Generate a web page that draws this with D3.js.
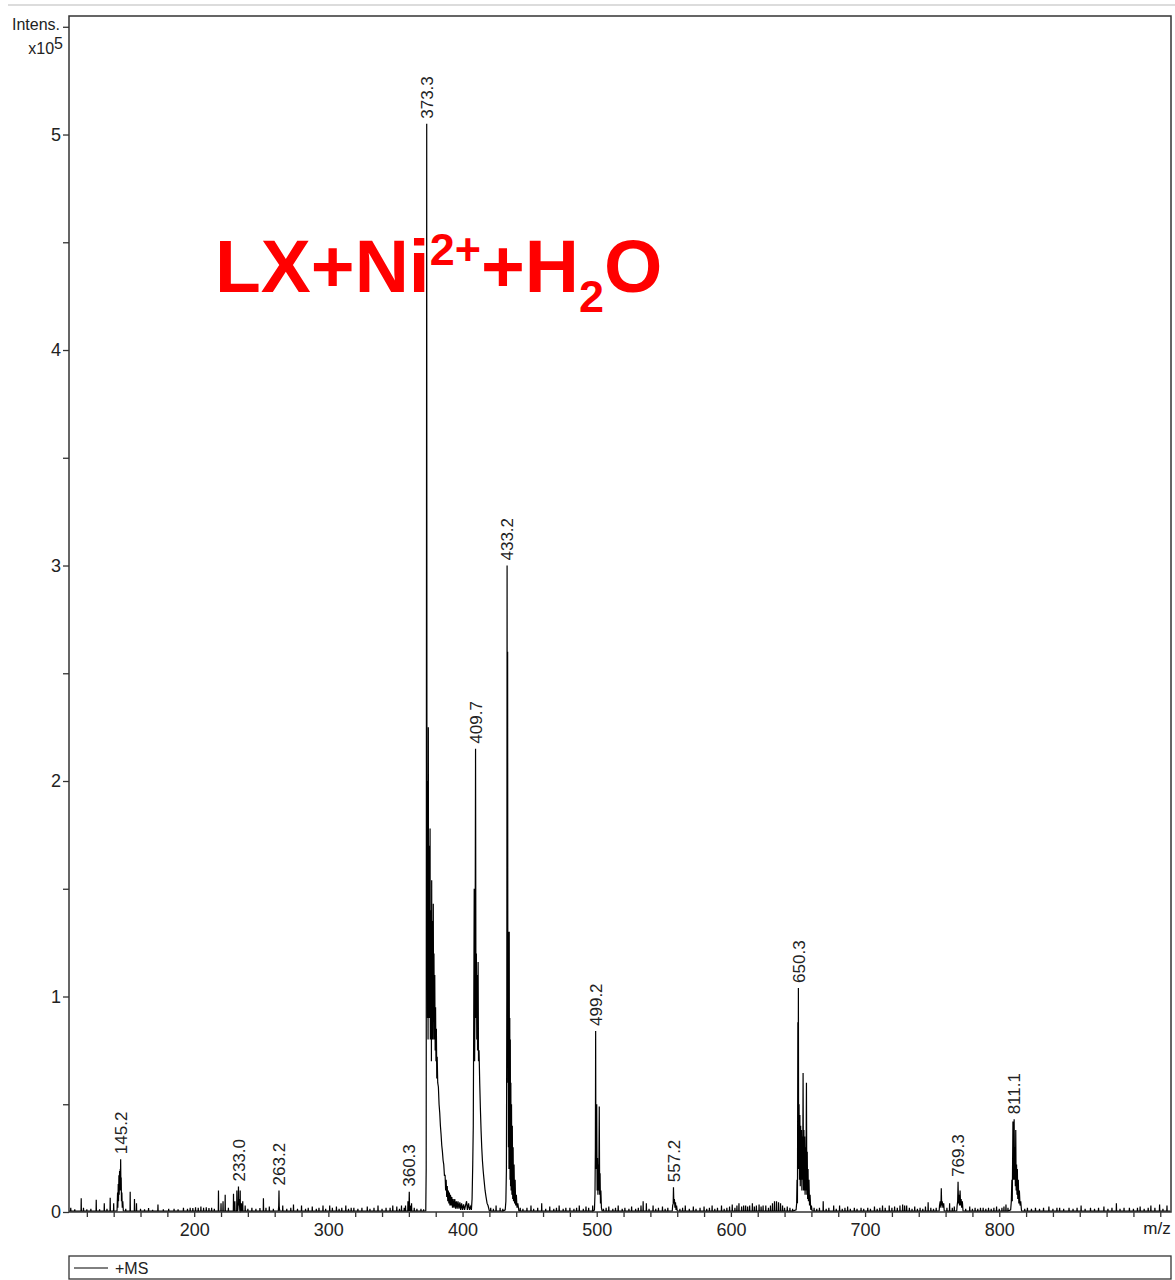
<!DOCTYPE html>
<html>
<head>
<meta charset="utf-8">
<script src="https://cdn.jsdelivr.net/npm/d3@7"></script>
<style>
  body { margin: 0; background: #fff; }
  svg { display: block; font-family: "Liberation Sans", Arial, sans-serif; }
</style>
</head>
<body>
<div id="chart"></div>
<script>
// ---- data (intensity in units of 10^5) ----

// labelled peaks
const peakMz = [145.2, 233.0, 263.2, 360.3, 373.3, 409.7, 433.2, 499.2, 557.2, 650.3, 769.3, 811.1]
const peakInt = [0.245, 0.118, 0.10, 0.094, 5.05, 2.15, 3.0, 0.84, 0.115, 1.04, 0.14, 0.43]

// isolated noise spikes [m/z, intensity]
const noise = [
  [108,0.02],[111,0.012],[115.8,0.064],[117.5,0.02],[120,0.012],[123,0.015],[127,0.057],[129.5,0.012],
  [133,0.04],[135,0.015],[137.4,0.066],[140,0.04],[149,0.015],[152.3,0.094],[155.5,0.06],[157,0.04],
  [160,0.015],[163,0.012],[166,0.018],[169,0.01],[173,0.035],[177,0.012],[181,0.015],[185,0.015],
  [188,0.012],[192,0.02],[195,0.015],[197,0.02],[199,0.018],[201,0.022],[203,0.02],[205,0.025],
  [207,0.02],[209,0.022],[211,0.018],[213,0.02],[215,0.015],[218.1,0.10],[220,0.04],[221.5,0.05],
  [223.1,0.08],[225.5,0.02],[229.3,0.085],[230.3,0.05],[231.8,0.10],[234.3,0.10],[235.2,0.04],
  [236.2,0.05],[238,0.03],[240,0.015],[243,0.02],[246,0.015],[249,0.018],[251.6,0.064],[253.5,0.02],
  [256,0.025],[259,0.015],[266,0.03],[269,0.015],[272,0.02],[274,0.035],[277,0.015],[280,0.03],
  [283,0.015],[285,0.02],[288,0.025],[291,0.015],[293,0.02],[296,0.03],[298,0.015],[301,0.03],
  [303,0.02],[306,0.025],[308,0.015],[310,0.02],[313,0.03],[315,0.015],[317,0.02],[319,0.02],
  [322,0.015],[325,0.02],[329,0.025],[331,0.015],[334,0.02],[337,0.03],[340,0.015],[343,0.02],
  [346,0.02],[348,0.03],[351,0.025],[353,0.015],[354.5,0.03],[356.5,0.02],[357.5,0.03],[359.3,0.05],
  [361,0.03],[362,0.04],[364,0.02],[366,0.015],[369,0.015],[371,0.012],
  [421,0.02],[423,0.015],[425,0.03],[428,0.02],[430,0.015],
  [443,0.02],[445,0.015],[448,0.02],[451,0.03],[453,0.015],[456,0.02],[459,0.04],[462,0.015],
  [465,0.025],[468,0.015],[470,0.02],[472,0.03],[475,0.015],[477,0.02],[480,0.02],[483,0.015],
  [485,0.02],[487,0.03],[490,0.015],[492,0.025],[494,0.02],[497,0.03],
  [505,0.015],[507,0.02],[509,0.025],[512,0.015],[514,0.02],[516,0.03],[519,0.015],[521,0.02],
  [524,0.015],[526,0.025],[529,0.015],[531,0.02],[533,0.03],[534.6,0.05],[537,0.04],[539,0.015],
  [542,0.03],[544,0.015],[546,0.02],[549,0.025],[551,0.015],[553,0.02],
  [562,0.015],[564,0.02],[566,0.03],[569,0.015],[572,0.025],[574,0.015],[577,0.02],[580,0.025],
  [582,0.015],[584,0.02],[586,0.03],[588,0.015],[590,0.02],[593,0.03],[595,0.015],[597,0.02],
  [599,0.025],[601,0.035],[603,0.02],[604.5,0.03],[606,0.04],[608,0.025],[609.5,0.03],[611,0.03],
  [612.5,0.025],[614,0.03],[616,0.04],[617.5,0.025],[619,0.03],[621,0.035],[622.5,0.025],[624,0.03],
  [626,0.03],[628,0.02],[629.5,0.03],[631,0.04],[632.5,0.05],[634,0.05],[635.5,0.045],[637,0.04],
  [638.5,0.03],[640,0.02],[642,0.025],[644,0.02],[646,0.015],
  [662,0.02],[664,0.015],[666,0.02],[668.8,0.05],[671,0.015],[673,0.02],[676.6,0.03],[678.5,0.015],
  [681,0.03],[683,0.015],[685,0.02],[687,0.025],[689,0.015],[692,0.02],[694,0.015],[697,0.02],
  [699,0.015],[702,0.02],[704,0.015],[707,0.025],[709,0.015],[711,0.02],[713,0.03],[715,0.02],
  [718,0.03],[720,0.02],[722,0.025],[724,0.02],[726,0.03],[728,0.035],[729.5,0.03],[731,0.03],
  [733,0.02],[735,0.015],[737,0.025],[739,0.015],[741,0.02],[743,0.015],[745,0.025],[747,0.045],
  [749,0.02],[751,0.015],[753,0.02],[761,0.02],[763,0.04],[765,0.02],[766.5,0.025],
  [775,0.015],[778,0.025],[780,0.015],[782,0.02],[784,0.015],[786,0.02],[788,0.02],[790,0.015],
  [792,0.02],[794,0.015],[796,0.02],[798,0.025],[800,0.015],[802,0.02],[803.5,0.025],[805,0.035],
  [806.5,0.02],[819,0.015],[821,0.02],[824,0.015],[827,0.02],[830,0.015],[833,0.02],[837,0.025],
  [840,0.015],[843,0.02],[845,0.02],[848,0.015],[852,0.02],[855,0.015],[858,0.02],[861,0.03],
  [864,0.015],[868,0.02],[871,0.015],[874,0.02],[878,0.025],[881,0.015],[884,0.02],[887.3,0.04],
  [890,0.015],[893,0.02],[897,0.02],[900,0.015],[903,0.02],[905,0.025],[908,0.015],[911,0.02],
  [913,0.03],[916,0.02],[919.5,0.035],[922,0.015],[925,0.03]
]

// dense profile regions [m/z, intensity]
const cluster145 = [[142.5,0.005],[142.9,0.09],[143.1,0.02],[143.4,0.13],[143.6,0.05],[143.9,0.17],
  [144.1,0.08],[144.4,0.19],[144.6,0.1],[144.9,0.2],[145.0,0.12],[145.2,0.245],[145.4,0.1],[145.6,0.16],
  [145.8,0.05],[146.1,0.09],[146.4,0.02],[146.8,0.05],[147.2,0.005]]

const cluster233 = [[232.5,0.005],[232.8,0.04],[233.0,0.118],[233.2,0.03],[233.6,0.06],[234.0,0.005]]
const cluster263 = [[262.7,0.005],[263.0,0.03],[263.2,0.10],[263.4,0.02],[263.8,0.005]]
const cluster360 = [[359.9,0.005],[360.1,0.03],[360.3,0.094],[360.5,0.02],[360.9,0.005]]

const cluster373 = [[372.6,0.005],[372.9,0.2],[373.3,5.05],[373.5,1.2],[373.7,2.0],[373.9,0.9],
  [374.1,1.6],[374.3,0.8],[374.5,2.25],[374.7,1.0],[374.9,1.7],[375.1,0.9],[375.3,1.5],[375.5,1.0],
  [375.8,1.78],[376.0,0.8],[376.2,1.4],[376.4,0.9],[376.6,1.3],[376.8,0.7],[377.0,1.54],[377.2,0.8],
  [377.4,1.2],[377.6,0.9],[377.8,1.35],[378.0,0.8],[378.2,1.43],[378.4,0.9],[378.7,1.2],[379.0,0.8],
  [379.3,1.1],[379.6,0.75],[379.9,0.95],[380.2,0.7],[380.5,0.85],[380.8,0.62],[381.1,0.72],
  [381.5,0.6],[382,0.58],[382.5,0.5],[383,0.46],[383.5,0.4],[384,0.36],[384.5,0.31],[385,0.28],
  [385.5,0.24],[386,0.22],[386.5,0.17],[387,0.17],[387.4,0.1],[387.8,0.15],[388.2,0.07],[388.6,0.12],
  [389,0.05],[389.4,0.1],[389.8,0.04],[390.2,0.09],[390.6,0.03],[391.0,0.08],[391.5,0.03],
  [392.0,0.07],[392.5,0.02],[393.0,0.06],[393.6,0.02],[394.2,0.06],[394.8,0.015],[395.4,0.05],
  [396.0,0.015],[396.6,0.05],[397.3,0.015],[398.0,0.045],[398.6,0.01],[399.3,0.04],[400,0.01],
  [400.8,0.035],[401.5,0.01],[402.2,0.03],[403,0.05],[403.6,0.01],[404.5,0.04],[405.2,0.01],[406,0.025]]

const cluster409 = [[406.6,0.01],[407.1,0.06],[407.6,0.22],[408.0,0.4],[408.4,1.0],[408.7,1.5],
  [409.0,0.7],[409.3,1.0],[409.7,2.15],[410.0,0.9],[410.3,1.2],[410.6,0.8],[410.9,1.1],[411.2,0.75],
  [411.6,1.16],[411.9,0.7],[412.3,0.75],[412.8,0.6],[413.3,0.48],[413.8,0.38],[414.3,0.3],
  [414.8,0.24],[415.4,0.19],[416,0.15],[416.8,0.1],[417.5,0.07],[418.3,0.04],[419,0.03],[420,0.005]]

const cluster433 = [[431.8,0.01],[432.3,0.05],[432.7,0.2],[433.0,1.0],[433.2,3.0],[433.4,1.1],
  [433.6,2.6],[433.8,0.6],[434.0,1.3],[434.2,0.3],[434.4,0.95],[434.6,0.2],[434.8,1.3],[435.0,0.2],
  [435.2,0.9],[435.4,0.15],[435.6,0.8],[435.8,0.12],[436.0,0.6],[436.2,0.1],[436.5,0.5],[436.8,0.08],
  [437.1,0.4],[437.4,0.06],[437.7,0.3],[438.0,0.05],[438.4,0.22],[438.8,0.04],[439.2,0.15],
  [439.6,0.03],[440.1,0.08],[440.6,0.02],[441.2,0.04],[442,0.005]]

const cluster499 = [[498.3,0.01],[498.7,0.08],[499.0,0.3],[499.2,0.84],[499.4,0.2],[499.7,0.3],
  [500.0,0.5],[500.3,0.1],[500.6,0.25],[500.9,0.08],[501.2,0.22],[501.5,0.1],[501.9,0.49],
  [502.2,0.08],[502.5,0.18],[502.8,0.04],[503.1,0.1],[503.5,0.02],[504,0.005]]

const cluster557 = [[556.3,0.005],[556.6,0.03],[557.0,0.04],[557.2,0.115],[557.5,0.04],[557.9,0.06],
  [558.3,0.02],[558.7,0.045],[559.1,0.01],[559.5,0.03],[560,0.005]]

const cluster650 = [[648.6,0.01],[649.0,0.04],[649.3,0.15],[649.6,0.04],[649.9,0.88],[650.1,0.25],
  [650.3,1.04],[650.5,0.2],[650.8,0.5],[651.1,0.15],[651.4,0.45],[651.7,0.12],[652.0,0.4],
  [652.3,0.15],[652.6,0.38],[652.9,0.1],[653.2,0.35],[653.5,0.15],[653.8,0.645],[654.1,0.1],
  [654.4,0.38],[654.7,0.1],[655.0,0.35],[655.3,0.08],[655.6,0.3],[655.9,0.1],[656.3,0.6],
  [656.6,0.08],[656.9,0.28],[657.2,0.06],[657.5,0.2],[657.8,0.05],[658.2,0.15],[658.6,0.03],
  [659.0,0.08],[659.5,0.01],[660,0.03],[660.5,0.005]]

const cluster757 = [[755.2,0.005],[755.5,0.03],[756,0.05],[756.5,0.02],[756.8,0.11],[757.1,0.03],
  [757.5,0.05],[758,0.02],[758.6,0.04],[759,0.005]]

const cluster769 = [[768.3,0.005],[768.6,0.03],[769.0,0.05],[769.3,0.14],[769.6,0.04],[770.0,0.08],
  [770.4,0.03],[770.8,0.1],[771.2,0.03],[771.6,0.06],[772.0,0.02],[772.5,0.05],[773,0.005]]

const cluster811 = [[808.5,0.01],[809.0,0.05],[809.4,0.15],[809.7,0.05],[810.2,0.42],[810.5,0.15],
  [810.8,0.3],[811.1,0.43],[811.4,0.15],[811.7,0.3],[812.0,0.12],[812.3,0.38],[812.6,0.1],
  [812.9,0.22],[813.2,0.08],[813.5,0.2],[813.8,0.06],[814.2,0.15],[814.6,0.04],[815.0,0.1],
  [815.5,0.03],[816,0.05],[816.6,0.005]]

const xTicks = d3.range(120, 921, 20)
const xLabels = [200, 300, 400, 500, 600, 700, 800]
const yTicks = d3.range(0, 5.51, 0.5)
const yLabels = [0, 1, 2, 3, 4, 5]

// ---- layout ----
const W = 1175, H = 1280
const plot = {left: 69, right: 1171, top: 16, bottom: 1212}

const svg = d3.select("#chart").append("svg")
  .attr("width", W).attr("height", H)

const x = d3.scaleLinear().domain([106.7, 928]).range([plot.left, plot.right])
const y = d3.scaleLinear().domain([0, 5.55]).range([plot.bottom, plot.top])

// faint line at very top
svg.append("line")
  .attr("x1", 8).attr("x2", W).attr("y1", 5).attr("y2", 5)
  .attr("stroke", "#dcdcdc").attr("stroke-width", 2)

// build one profile trace from the clusters and noise spikes
const floor = 0.004
const spikes = noise.flatMap(([m, v]) => [[m - 0.15, floor], [m, v], [m + 0.15, floor]])
const profile = [
  [106.8, floor],
  ...spikes,
  ...cluster145, ...cluster233, ...cluster263, ...cluster360, ...cluster373, ...cluster409,
  ...cluster433, ...cluster499, ...cluster557, ...cluster650, ...cluster757, ...cluster769, ...cluster811,
  [927.5, floor]
].sort((a, b) => a[0] - b[0])

const line = d3.line()
  .x(d => x(d[0]))
  .y(d => y(d[1]))

svg.append("path")
  .datum(profile)
  .attr("fill", "none")
  .attr("stroke", "#000")
  .attr("stroke-width", 1.2)
  .attr("d", line)

// axes
const xAxis = svg.append("g")
  .attr("transform", `translate(0,${plot.bottom})`)
  .call(d3.axisBottom(x).tickValues(xTicks).tickSize(5).tickSizeOuter(0)
    .tickFormat(d => xLabels.includes(d) ? d : ""))
xAxis.select(".domain").remove()
xAxis.selectAll("line").attr("stroke", "#333").attr("stroke-width", 1.3)
xAxis.selectAll("text").attr("font-size", 18).attr("font-family", "Liberation Sans, Arial")
  .attr("fill", "#222").attr("dy", "0.9em")

const yAxis = svg.append("g")
  .attr("transform", `translate(${plot.left},0)`)
  .call(d3.axisLeft(y).tickValues(yTicks).tickSize(6).tickSizeOuter(0)
    .tickFormat(d => yLabels.includes(d) ? d : ""))
yAxis.select(".domain").remove()
yAxis.selectAll("line").attr("stroke", "#333").attr("stroke-width", 1.3)
yAxis.selectAll("text").attr("font-size", 18).attr("font-family", "Liberation Sans, Arial")
  .attr("fill", "#222").attr("x", -8)

// plot frame
svg.append("rect")
  .attr("x", plot.left).attr("y", plot.top)
  .attr("width", plot.right - plot.left).attr("height", plot.bottom - plot.top)
  .attr("fill", "none").attr("stroke", "#333").attr("stroke-width", 1.5)

// axis titles
svg.append("text").attr("x", 60).attr("y", 30).attr("text-anchor", "end")
  .attr("font-size", 16).attr("fill", "#222").text("Intens.")
const xt = svg.append("text").attr("x", 63).attr("y", 54).attr("text-anchor", "end")
  .attr("font-size", 16).attr("fill", "#222")
xt.append("tspan").text("x10")
xt.append("tspan").attr("dy", -5).text("5")

svg.append("text").attr("x", 1157).attr("y", 1234).attr("text-anchor", "middle")
  .attr("font-size", 17).attr("fill", "#222").text("m/z")

// peak labels
svg.selectAll(".plabel")
  .data(peakMz)
  .join("text")
  .attr("class", "plabel")
  .attr("transform", (d, i) => `translate(${x(d)},${y(peakInt[i]) - 5}) rotate(-90)`)
  .attr("dy", "0.36em")
  .attr("font-size", 17)
  .attr("fill", "#222")
  .text(d => d.toFixed(1))

// red sample annotation
const title = svg.append("text")
  .attr("x", 215).attr("y", 292)
  .attr("fill", "#ff0000")
  .attr("font-weight", "bold")
  .attr("font-size", 75)
title.append("tspan").text("LX+Ni")
title.append("tspan").attr("font-size", 45).attr("dy", -27).text("2+")
title.append("tspan").attr("dy", 27).text("+H")
title.append("tspan").attr("font-size", 45).attr("dy", 20).text("2")
title.append("tspan").attr("dy", -20).text("O")

// legend box
svg.append("rect")
  .attr("x", plot.left).attr("y", 1256)
  .attr("width", plot.right - plot.left).attr("height", 23)
  .attr("fill", "none").attr("stroke", "#333").attr("stroke-width", 1.3)
svg.append("line")
  .attr("x1", 74).attr("x2", 108).attr("y1", 1268).attr("y2", 1268)
  .attr("stroke", "#000").attr("stroke-width", 1)
svg.append("text").attr("x", 115).attr("y", 1274)
  .attr("font-size", 16).attr("fill", "#222").text("+MS")
</script>
</body>
</html>
